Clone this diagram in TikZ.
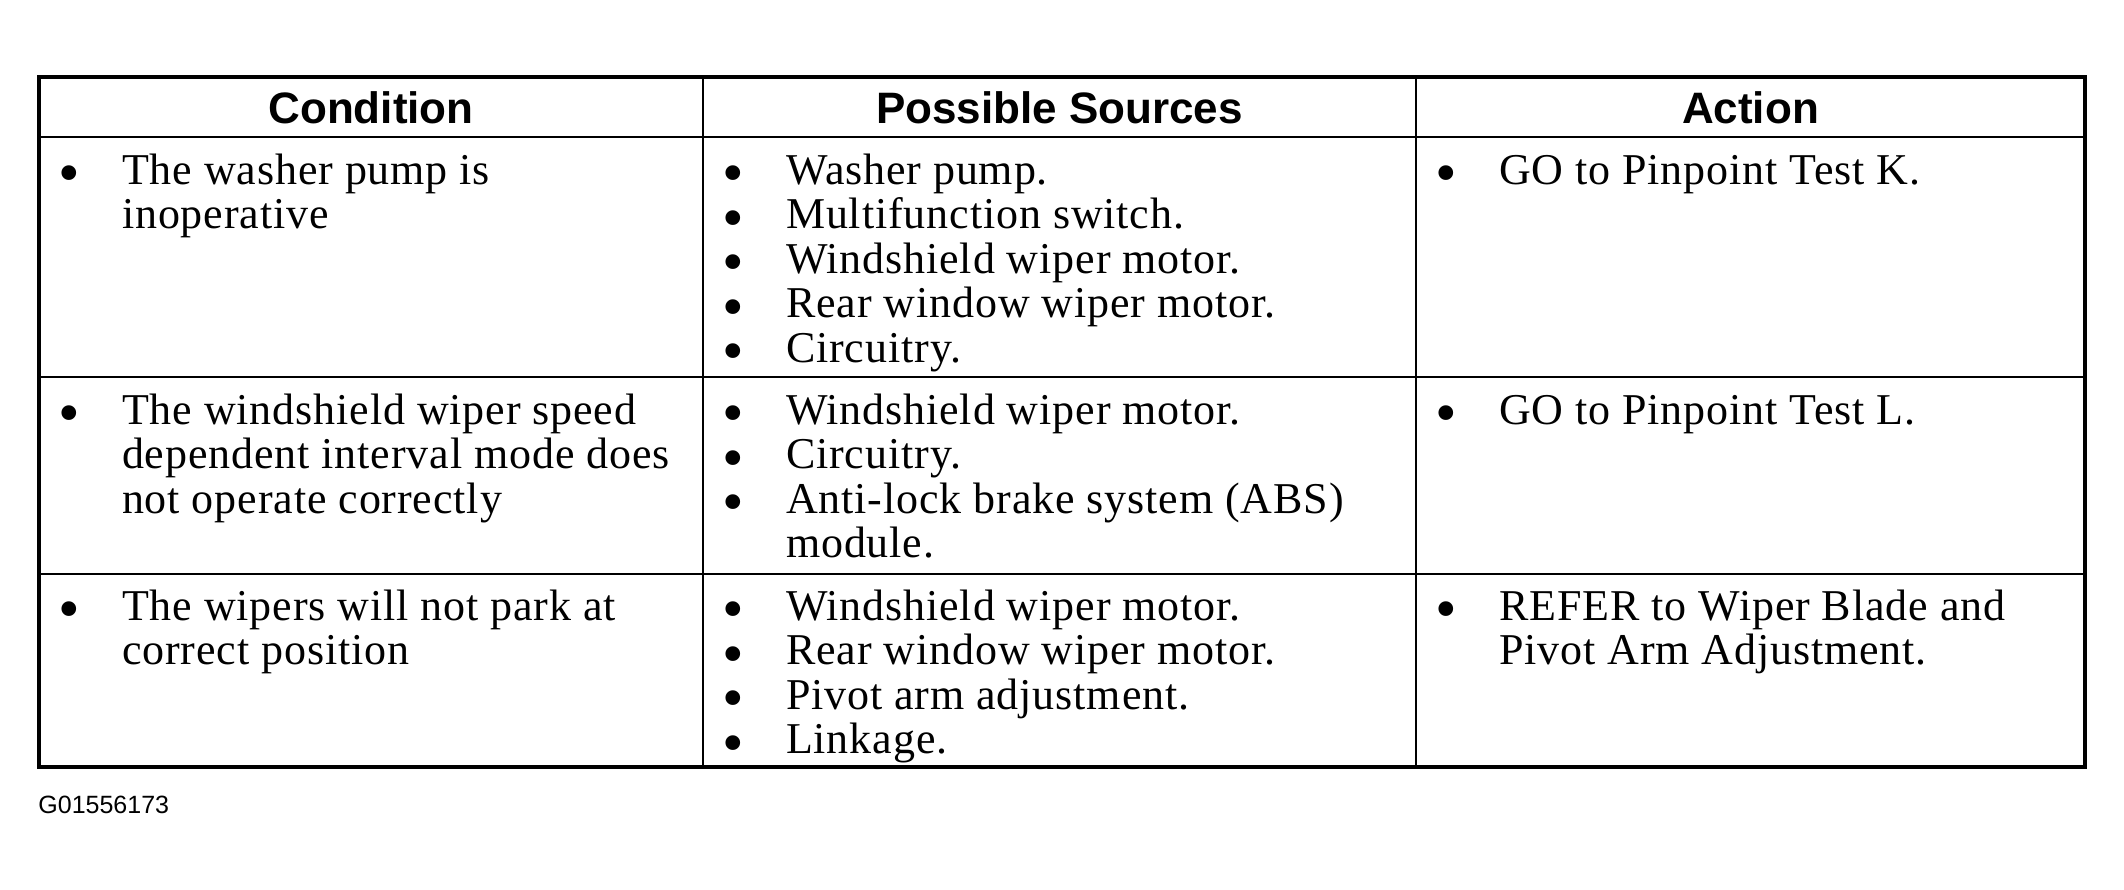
\documentclass[tikz,border=0pt]{standalone}
\usepackage{fontspec}
\usepackage{array}
\setmainfont{Liberation Serif}[LetterSpace=2]
\newfontfamily\headfont{Liberation Sans}
\tikzstyle{head} = [anchor=base, inner sep=0pt, font=\headfont\bfseries\fontsize{22pt}{26pt}\selectfont]
\tikzstyle{cell} = [anchor=north west, inner sep=0pt, font=\fontsize{22pt}{22.25pt}\selectfont]
\tikzstyle{tag} = [anchor=base west, inner sep=0pt, font=\headfont\fontsize{12.5pt}{15pt}\selectfont]
\tikzstyle{rule} = [line width=1pt]
\tikzstyle{frame} = [line width=2pt]
\newcommand{\blt}{\raisebox{-4.6pt}[0pt][0pt]{\scalebox{1.4}{\textbullet}}}
\newcommand{\items}[1]{\begin{tabular}{@{}p{31.85pt}@{}l@{}}#1\end{tabular}}

\begin{document}
\begin{tikzpicture}[x=0.5pt, y=-0.5pt]
    \useasboundingbox (0,0) rectangle (2124,889);
    \draw [rule] (39,137) -- (2085,137);
    \draw [rule] (39,377) -- (2085,377);
    \draw [rule] (39,574) -- (2085,574);
    \draw [rule] (703,77) -- (703,767);
    \draw [rule] (1416,77) -- (1416,767);
    \draw [frame] (39,77) rectangle (2085,767);

    \node (hcond) [head] at (371,123) {Condition};
    \node (hsrc) [head] at (1059.5,123) {Possible Sources};
    \node (hact) [head] at (1750.5,123) {Action};

    \node (cond1) [cell] at (58,152.85) {\items{\blt & The washer pump is\\ & inoperative}};
    \node (src1) [cell] at (722,152.85) {\items{\blt & Washer pump.\\ \blt & Multifunction switch.\\ \blt & Windshield wiper motor.\\ \blt & Rear window wiper motor.\\ \blt & Circuitry.}};
    \node (act1) [cell] at (1435,152.85) {\items{\blt & GO to Pinpoint Test K.}};

    \node (cond2) [cell] at (58,392.85) {\items{\blt & The windshield wiper speed\\ & dependent interval mode does\\ & not operate correctly}};
    \node (src2) [cell] at (722,392.85) {\items{\blt & Windshield wiper motor.\\ \blt & Circuitry.\\ \blt & Anti-lock brake system (ABS)\\ & module.}};
    \node (act2) [cell] at (1435,392.85) {\items{\blt & GO to Pinpoint Test L.}};

    \node (cond3) [cell] at (58,588.85) {\items{\blt & The wipers will not park at\\ & correct position}};
    \node (src3) [cell] at (722,588.85) {\items{\blt & Windshield wiper motor.\\ \blt & Rear window wiper motor.\\ \blt & Pivot arm adjustment.\\ \blt & Linkage.}};
    \node (act3) [cell] at (1435,588.85) {\items{\blt & REFER to Wiper Blade and\\ & Pivot Arm Adjustment.}};

    \node (code) [tag] at (38,813) {G01556173};
\end{tikzpicture}
\end{document}
